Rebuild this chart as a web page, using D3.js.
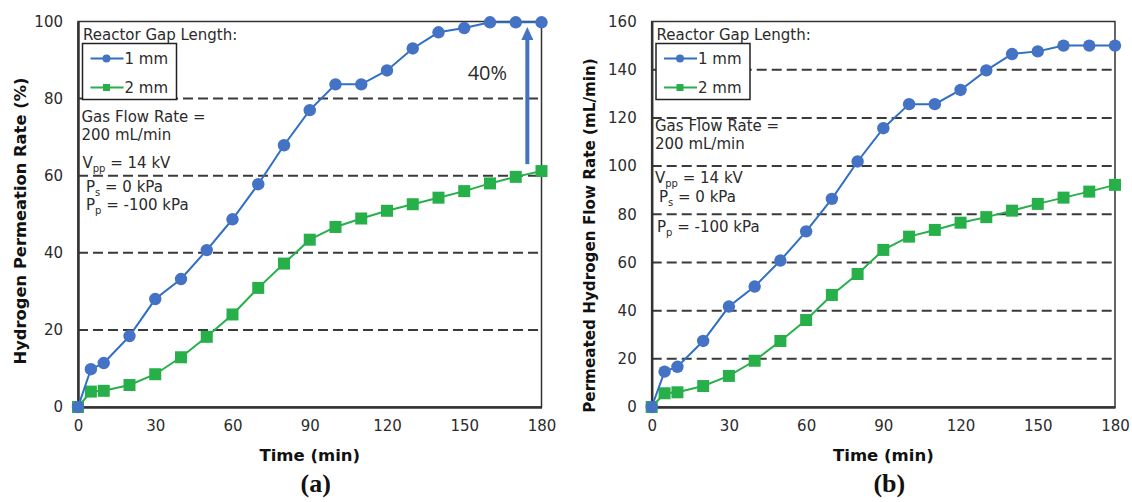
<!DOCTYPE html>
<html>
  <head>
    <meta charset='utf-8'>
    <style>
      body { margin: 0; background: #fff; }
      svg text { font-family: "DejaVu Sans", Verdana, sans-serif; fill: #2b2b2b; }
      .tick text { font-size: 15px; }
      .axis-label { font-weight: bold; }
      .panel-tag { font-family: "Liberation Serif", "Times New Roman", serif !important; font-weight: bold; font-size: 26px; fill: #111 !important; }
      .note { font-size: 15px; }
    </style>
  </head>
<body>
<div id="chart"></div>
<script src="https://cdnjs.cloudflare.com/ajax/libs/d3/7.8.5/d3.min.js"></script>
<script type="text/javascript">

  // --------------------------- data --------------------------
  var time = [0, 5, 10, 20, 30, 40, 50, 60, 70, 80, 90, 100, 110, 120, 130, 140, 150, 160, 170, 180];

  // (a) hydrogen permeation rate, %
  var perm1mm = [0, 9.8, 11.4, 18.4, 28, 33.2, 40.7, 48.7, 57.8, 67.9, 77, 83.7, 83.7, 87.3, 93, 97.2, 98.3, 99.8, 99.8, 99.8];
  var perm2mm = [0, 4.0, 4.2, 5.7, 8.5, 12.9, 18.2, 24, 30.9, 37.2, 43.4, 46.7, 48.9, 50.9, 52.6, 54.3, 56, 58, 59.7, 61.2];

  // (b) permeated hydrogen flow rate, mL/min
  var flow1mm = [0, 14.7, 16.7, 27.4, 41.7, 50, 60.8, 72.9, 86.4, 101.9, 115.7, 125.7, 125.7, 131.6, 139.7, 146.5, 147.6, 150, 150, 150];
  var flow2mm = [0, 5.7, 6.1, 8.7, 12.9, 19.2, 27.4, 36.1, 46.5, 55.2, 65.2, 70.7, 73.5, 76.5, 78.8, 81.5, 84.3, 86.9, 89.4, 92.2];

  var xTicks = [0, 30, 60, 90, 120, 150, 180];
  var yTicksA = [0, 20, 40, 60, 80, 100];
  var yTicksB = [0, 20, 40, 60, 80, 100, 120, 140, 160];

  var seriesNames = ["1 mm", "2 mm"];

  // 40% arrow in panel (a)
  var arrowTime = 174.5, arrowFrom = 63, arrowTo = 98.6;
  // --------------------------- end data --------------------------

  var blue = "#4472c4", blueLine = "#2f6fc4", green = "#27b04a", ink = "#333";

  var svg = d3.select("#chart").append("svg")
    .attr("width", 1132).attr("height", 502);

  var panels = [
    { left: 78, right: 541.5, top: 21.5, bottom: 407, yMax: 100, yTicks: yTicksA,
      s1: perm1mm, s2: perm2mm, ylabel: "Hydrogen Permeation Rate (%)", ylx: 20, ylc: 221, ylLen: 287,
      tag: "(a)", legX: 82.5, legW: 94, notes: [
        [81.5, 122, "Gas Flow Rate ="], [81.5, 139.5, "200 mL/min"],
        [82.5, 168, "V", "pp", " = 14 kV"], [86, 191.5, "P", "s", " = 0 kPa"], [86, 210, "P", "p", " = -100 kPa"]] },
    { left: 651.7, right: 1115, top: 21.5, bottom: 407, yMax: 160, yTicks: yTicksB,
      s1: flow1mm, s2: flow2mm, ylabel: "Permeated Hydrogen Flow Rate (mL/min)", ylx: 590, ylc: 235.5, ylLen: 355,
      tag: "(b)", legX: 656, legW: 94, notes: [
        [655, 131, "Gas Flow Rate ="], [655, 148.5, "200 mL/min"],
        [655, 183, "V", "pp", " = 14 kV"], [659, 201.5, "P", "s", " = 0 kPa"], [657, 231.5, "P", "p", " = -100 kPa"]] }
  ];

  panels.forEach(function(p, pi) {
    var x = d3.scaleLinear().domain([0, 180]).range([p.left, p.right]);
    var y = d3.scaleLinear().domain([0, p.yMax]).range([p.bottom, p.top]);
    var g = svg.append("g");

    // dashed gridlines
    g.selectAll(".grid")
      .data(p.yTicks.filter(function(d){ return d > 0 && d < p.yMax; }))
      .enter().append("line")
      .attr("x1", p.left).attr("x2", p.right)
      .attr("y1", function(d){ return y(d); }).attr("y2", function(d){ return y(d); })
      .attr("stroke", "#3a3a3a").attr("stroke-width", 2).attr("stroke-dasharray", "10,5");

    // frame
    g.append("rect")
      .attr("x", p.left).attr("y", p.top)
      .attr("width", p.right - p.left).attr("height", p.bottom - p.top)
      .attr("fill", "none").attr("stroke", ink).attr("stroke-width", 1.5);

    // axes
    var yAxis = d3.axisLeft(y).tickValues(p.yTicks).tickSize(0).tickPadding(15);
    var xAxis = d3.axisBottom(x).tickValues(xTicks).tickSize(0).tickPadding(13);
    var ya = g.append("g").attr("transform", "translate(" + p.left + ",0)").call(yAxis);
    var xa = g.append("g").attr("transform", "translate(0," + p.bottom + ")").call(xAxis);
    [ya, xa].forEach(function(a){
      a.select(".domain").attr("stroke", ink).attr("stroke-width", 2.5);
      a.selectAll(".tick text").attr("fill", "#333");
    });

    // axis titles
    var yl = g.append("text").attr("class", "axis-label")
      .attr("transform", "translate(" + p.ylx + "," + p.ylc + ") rotate(-90)")
      .attr("text-anchor", "middle").attr("dy", "0.35em")
      .style("font-size", "15px").style("fill", "#111")
      .text(p.ylabel);
    // fit the title to the span measured on the original
    var len = yl.node().getComputedTextLength();
    if (len > 0) yl.style("font-size", (15 * p.ylLen / len).toFixed(2) + "px");

    g.append("text").attr("class", "axis-label")
      .attr("x", (p.left + p.right) / 2).attr("y", 461)
      .attr("text-anchor", "middle").style("font-size", "16.5px").style("fill", "#111")
      .text("Time (min)");
    g.append("text").attr("class", "panel-tag")
      .attr("x", (p.left + p.right) / 2 + 6).attr("y", 492)
      .attr("text-anchor", "middle").text(p.tag);

    // notes
    p.notes.forEach(function(n){
      var t = g.append("text").attr("class", "note").attr("x", n[0]).attr("y", n[1]);
      t.append("tspan").text(n[2]);
      if (n.length > 3) {
        t.append("tspan").attr("dy", 4).style("font-size", "10px").text(n[3]);
        t.append("tspan").attr("dy", -4).text(n[4]);
      }
    });

    // series
    var line = d3.line().x(function(d){ return x(d[0]); }).y(function(d){ return y(d[1]); });
    var d1 = d3.zip(time, p.s1), d2 = d3.zip(time, p.s2);

    g.append("path").datum(d2).attr("d", line)
      .attr("fill", "none").attr("stroke", green).attr("stroke-width", 2);
    g.selectAll(".sq").data(d2).enter().append("rect")
      .attr("x", function(d){ return x(d[0]) - 6; }).attr("y", function(d){ return y(d[1]) - 6; })
      .attr("width", 12).attr("height", 12).attr("fill", green);

    g.append("path").datum(d1).attr("d", line)
      .attr("fill", "none").attr("stroke", blueLine).attr("stroke-width", 2);
    g.selectAll(".dot").data(d1).enter().append("circle")
      .attr("cx", function(d){ return x(d[0]); }).attr("cy", function(d){ return y(d[1]); })
      .attr("r", 6.2).attr("fill", blue);

    // legend
    g.append("text").attr("class", "note").attr("x", p.legX + 0.5).attr("y", 40).text("Reactor Gap Length:");
    g.append("rect").attr("x", p.legX).attr("y", 43.5).attr("width", p.legW).attr("height", 56)
      .attr("fill", "#fff").attr("stroke", "#222").attr("stroke-width", 1.5);
    seriesNames.forEach(function(name, i){
      var ly = 58.5 + i * 29, col = i === 0 ? blueLine : green;
      g.append("line").attr("x1", p.legX + 8).attr("x2", p.legX + 41)
        .attr("y1", ly).attr("y2", ly).attr("stroke", col).attr("stroke-width", 2);
      if (i === 0) {
        g.append("circle").attr("cx", p.legX + 24).attr("cy", ly).attr("r", 4).attr("fill", blue);
      } else {
        g.append("rect").attr("x", p.legX + 20.5).attr("y", ly - 3.5).attr("width", 7).attr("height", 7).attr("fill", green);
      }
      g.append("text").attr("class", "note").attr("x", p.legX + 42).attr("y", ly + 5.5)
        .text(name);
    });

    // 40% arrow
    if (pi === 0) {
      var ax = x(arrowTime), y0 = y(arrowFrom), y1 = y(arrowTo);
      g.append("line").attr("x1", ax).attr("x2", ax).attr("y1", y0).attr("y2", y1 + 12)
        .attr("stroke", blue).attr("stroke-width", 4);
      g.append("path")
        .attr("d", "M" + (ax - 6) + "," + (y1 + 13) + "L" + ax + "," + y1 + "L" + (ax + 6) + "," + (y1 + 13) + "Z")
        .attr("fill", blue);
      g.append("text").attr("x", ax - 40).attr("y", 80).attr("text-anchor", "middle")
        .style("font-size", "20px").style("font-family", "'Open Sans', 'DejaVu Sans', sans-serif")
        .text("40%");
    }
  });

</script>
</body>
</html>
